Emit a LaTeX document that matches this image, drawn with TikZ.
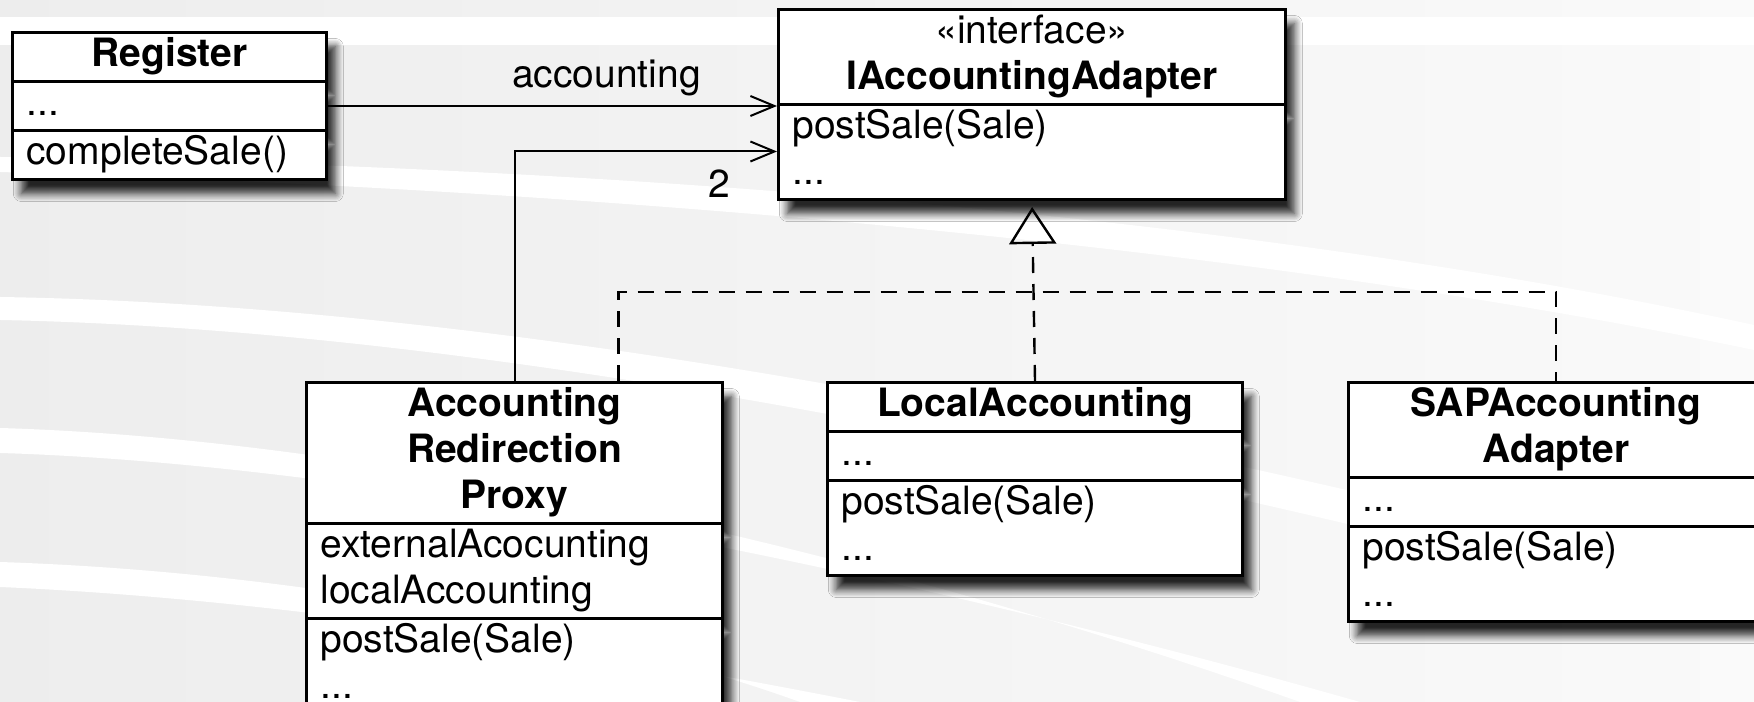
\documentclass[tikz,border=0pt]{standalone}
\usepackage{fontspec}
\setmainfont{TeX Gyre Heros}
\usetikzlibrary{arrows.meta, positioning, shapes.multipart, shadows.blur}
\newcommand\ctitle[1]{\makebox[\hsize]{\strut\textbf{#1}}}

\begin{document}
\begin{tikzpicture}[
  x=0.25pt, y=-0.25pt,
  every node/.style={font=\fontsize{9.75pt}{11.5pt}\selectfont},
  umlclass/.style={rectangle split, rectangle split parts=3, draw, line width=0.75pt,
    fill=white, anchor=north west, align=left, inner xsep=3.5pt, inner ysep=0pt,
    blur shadow={shadow xshift=2.2pt, shadow yshift=-3.5pt, shadow blur radius=2pt,
      shadow blur steps=8, shadow opacity=85}},
  assoc/.style={draw, line width=0.5pt, -{Straight Barb[length=6pt, width=5pt]}},
  realize/.style={draw, line width=0.6pt, dash pattern=on 4pt off 2.75pt}
]
\useasboundingbox (0,0) rectangle (1754,702);

% background swooshes
\shade[left color=gray!14, right color=gray!4] (0,0) rectangle (1754,702);
\fill[white] (0,17) rectangle (1754,45);
\fill[white] (0,157) .. controls (600,165) and (1250,215) .. (1754,325)
  -- (1754,350) .. controls (1250,245) and (600,190) .. (0,172) -- cycle;
\fill[white] (0,297) .. controls (500,305) and (1100,420) .. (1754,590)
  -- (1754,625) .. controls (1100,455) and (500,330) .. (0,320) -- cycle;
\fill[white] (0,428) .. controls (400,440) and (900,560) .. (1300,702)
  -- (1360,702) .. controls (950,585) and (400,465) .. (0,453) -- cycle;
\fill[white] (0,562) .. controls (300,572) and (600,630) .. (800,702)
  -- (860,702) .. controls (620,655) and (300,600) .. (0,587) -- cycle;

% classes
\node[umlclass, text width=71.5pt] (reg) at (11,31)
  {\ctitle{Register}\nodepart{two}\strut...\nodepart{three}\strut completeSale()};
\node[umlclass, rectangle split parts=2, text width=119.75pt] (iaa) at (777,8)
  {\makebox[\hsize]{\strut«interface»}\\\ctitle{IAccountingAdapter}%
   \nodepart{two}\strut postSale(Sale)\\\strut...};
\node[umlclass, text width=97pt] (arp) at (305,381)
  {\ctitle{Accounting}\\\ctitle{Redirection}\\\ctitle{Proxy}%
   \nodepart{two}\strut externalAcocunting\\\strut localAccounting%
   \nodepart{three}\strut postSale(Sale)\\\strut...};
\node[umlclass, text width=96.75pt, right=25.5pt of arp.north east, anchor=north west] (la)
  {\ctitle{LocalAccounting}\nodepart{two}\strut...\nodepart{three}\strut postSale(Sale)\\\strut...};
\node[umlclass, text width=96.75pt, right=25.75pt of la.north east, anchor=north west] (sap)
  {\ctitle{SAPAccounting}\\\ctitle{Adapter}\nodepart{two}\strut...%
   \nodepart{three}\strut postSale(Sale)\\\strut...};

% associations
\draw[assoc] (reg.east) -- node[above, pos=.62, yshift=-1pt] {accounting} (reg.east -| iaa.west);
\draw[assoc] (arp.north) |- node[pos=.89, below, yshift=-1pt] {2} ([yshift=-11.75pt]iaa.west);

% realizations
\coordinate (join) at (la.north |- 0,292);
\draw[realize] ([xshift=26pt]arp.north) |- (join) -| (sap.north);
\draw[realize, -{Triangle[open, length=9.25pt, width=11.75pt]}, shorten >=1.5pt] (la.north) -- (iaa.south);
\end{tikzpicture}
\end{document}
